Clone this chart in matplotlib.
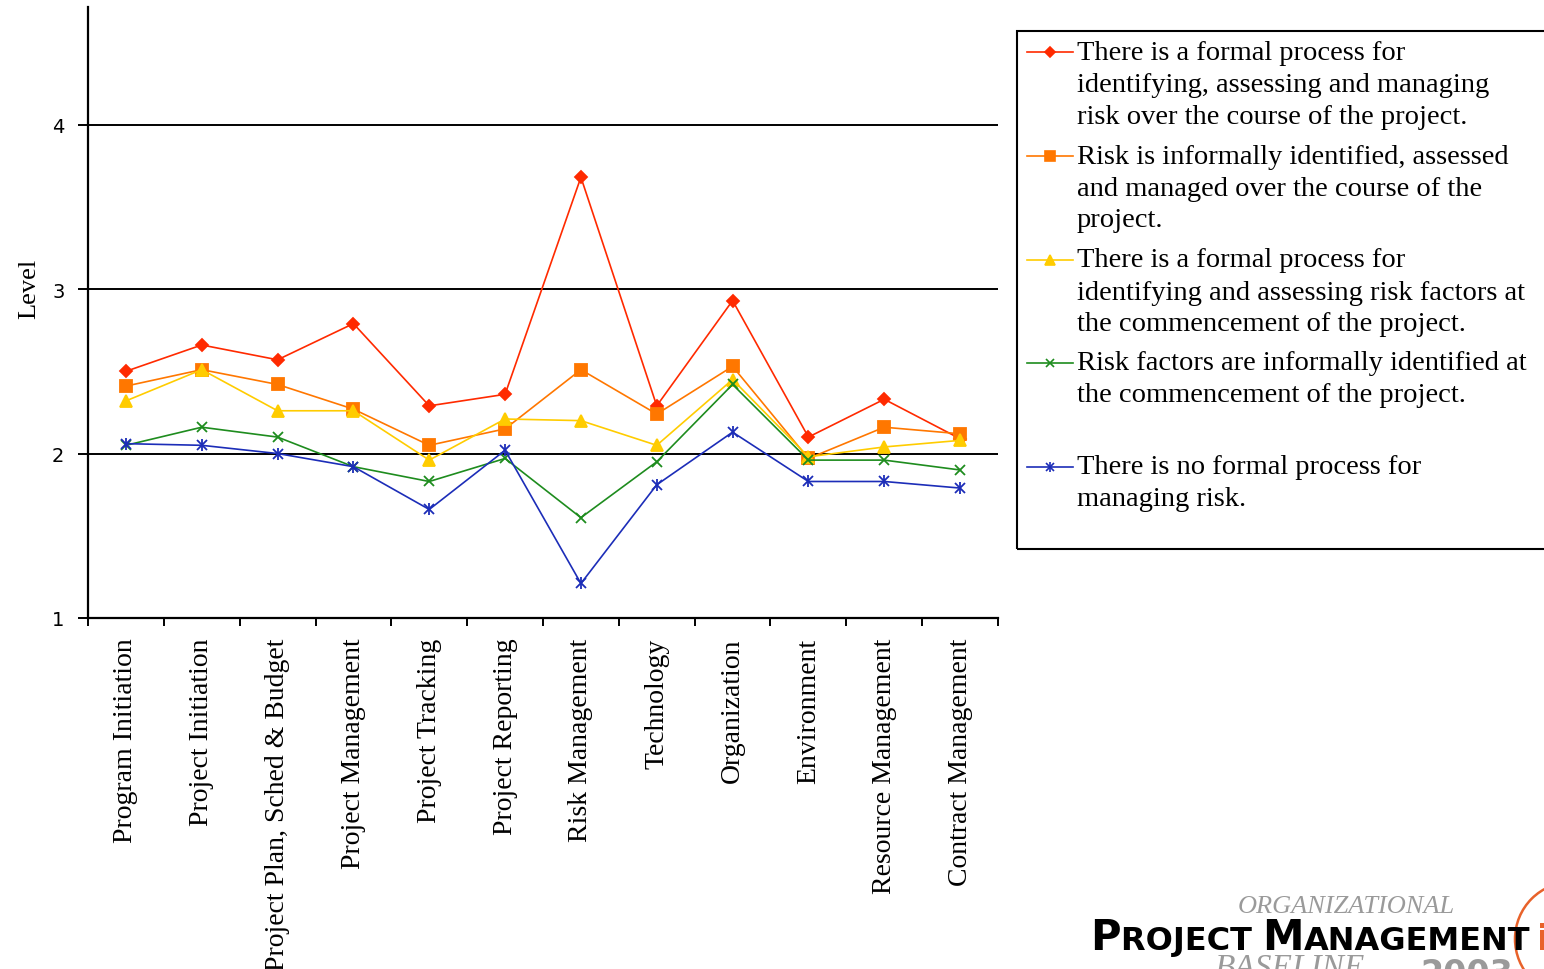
import matplotlib
matplotlib.use("Agg")
import matplotlib.pyplot as plt
from matplotlib.lines import Line2D
from matplotlib.patches import Rectangle, Ellipse

W, H = 1544, 970

categories = [
    "Program Initiation", "Project Initiation", "Project Plan, Sched & Budget",
    "Project Management", "Project Tracking", "Project Reporting",
    "Risk Management", "Technology", "Organization", "Environment",
    "Resource Management", "Contract Management",
]

formal_managing = [2.50, 2.66, 2.57, 2.79, 2.29, 2.36, 3.68, 2.29, 2.93, 2.10, 2.33, 2.09]
informal_managing = [2.41, 2.51, 2.42, 2.27, 2.05, 2.15, 2.51, 2.24, 2.53, 1.97, 2.16, 2.12]
formal_assessing = [2.32, 2.51, 2.26, 2.26, 1.96, 2.21, 2.20, 2.05, 2.45, 1.98, 2.04, 2.08]
informal_identified = [2.05, 2.16, 2.10, 1.92, 1.83, 1.97, 1.61, 1.95, 2.42, 1.96, 1.96, 1.90]
no_process = [2.06, 2.05, 2.00, 1.92, 1.66, 2.02, 1.21, 1.81, 2.13, 1.83, 1.83, 1.79]

legend_lines = [
    ["There is a formal process for",
     "identifying, assessing and managing",
     "risk over the course of the project."],
    ["Risk is informally identified, assessed",
     "and managed over the course of the",
     "project."],
    ["There is a formal process for",
     "identifying and assessing risk factors at",
     "the commencement of the project."],
    ["Risk factors are informally identified at",
     "the commencement of the project."],
    ["There is no formal process for",
     "managing risk."],
]

series = [formal_managing, informal_managing, formal_assessing,
          informal_identified, no_process]
colors = ["#FF2A00", "#FF7700", "#FFCC00", "#1E8C1E", "#1C2DB8"]
markers = ["D", "s", "^", "x", "x"]
msizes = [6.5, 9, 8, 7, 7]

SERIF = ["Liberation Serif", "DejaVu Serif"]


def fx(px):
    return px / W


def fy(py):
    return 1 - py / H


fig = plt.figure(figsize=(W / 100, H / 100), dpi=100)
ax = fig.add_axes([fx(88), fy(619), fx(998) - fx(88), fy(8) - fy(619)])

x = list(range(len(categories)))
for vals, c, m, ms in zip(series, colors, markers, msizes):
    ax.plot(x, vals, color=c, marker=m, markersize=ms, lw=1.2,
            markeredgewidth=1.3, zorder=3)
# the "star" marker of the last series gets a vertical bar too
ax.plot(x, no_process, ls="none", marker="|", markersize=8,
        color=colors[4], markeredgewidth=1.3, zorder=3)

ax.set_xlim(-0.5, len(categories) - 0.5)
ax.set_ylim(1, 4.715)
ax.set_yticks([1, 2, 3, 4])
ax.set_yticklabels(["1", "2", "3", "4"], fontsize=14, family="DejaVu Sans")
for yv in [2, 3, 4]:
    ax.axhline(yv, color="black", lw=1.4, zorder=1)

ax.set_xticks([i - 0.5 for i in range(len(categories) + 1)], minor=False)
ax.set_xticklabels([])
ax.set_xticks(x, minor=True)
ax.set_xticklabels(categories, minor=True, rotation=90, fontsize=20,
                   family=SERIF, va="top")
ax.tick_params(axis="x", which="minor", length=0, pad=14)
ax.tick_params(axis="x", which="major", length=6, width=1.4, direction="out")
ax.tick_params(axis="y", length=7, width=1.4, direction="out", pad=10)

for s in ["top", "right"]:
    ax.spines[s].set_visible(False)
for s in ["left", "bottom"]:
    ax.spines[s].set_linewidth(1.6)

ax.set_ylabel("Level", fontsize=19, family=SERIF)
ax.yaxis.set_label_coords((40 - 88) / 910, (619 - 289) / 611)

# legend box drawn by hand so markers sit on the first line of each entry
fig.patches.append(Rectangle((fx(1017), fy(550)), fx(1600) - fx(1017),
                             fy(32) - fy(550), transform=fig.transFigure,
                             fill=False, edgecolor="black", lw=1.5))
entry_tops = [53, 157, 261, 364, 468]
line_step = 32
for top, lines, c, m, ms in zip(entry_tops, legend_lines, colors, markers, msizes):
    fig.add_artist(Line2D([fx(1027), fx(1073)], [fy(top), fy(top)], color=c,
                          lw=1.2, transform=fig.transFigure))
    fig.add_artist(Line2D([fx(1050)], [fy(top)], color=c, marker=m,
                          markersize=ms * 0.85, markeredgewidth=1.2,
                          transform=fig.transFigure))
    for k, txt in enumerate(lines):
        fig.text(fx(1077), fy(top + k * line_step), txt, fontsize=20.5,
                 family=SERIF, va="center", ha="left")
fig.add_artist(Line2D([fx(1050)], [fy(468)], color=colors[4], marker="|",
                      markersize=7, markeredgewidth=1.2,
                      transform=fig.transFigure))

# logo, bottom right
fig.text(fx(1238), fy(918), "ORGANIZATIONAL", fontsize=19, style="italic",
         color="#9A9A9A", family=SERIF, va="bottom", ha="left")
fig.text(fx(1215), fy(954), "BASELINE", fontsize=24, style="italic",
         color="#9A9A9A", family=SERIF, va="top", ha="left")
fig.text(fx(1420), fy(958), "2003", fontsize=24, fontweight="bold",
         color="#9A9A9A", family="DejaVu Sans", va="top", ha="left")

renderer = fig.canvas.get_renderer()
xpos = fx(1090)
for piece, size in [("P", 30), ("ROJECT ", 23), ("M", 30), ("ANAGEMENT", 23)]:
    t = fig.text(xpos, fy(950), piece, fontsize=size, fontweight="heavy",
                 color="black", family="DejaVu Sans", va="baseline", ha="left")
    bb = t.get_window_extent(renderer)
    xpos += bb.width / W
fig.text(fx(1537), fy(950), "i", fontsize=26, fontweight="heavy",
         color="#E8622A", family="DejaVu Sans", va="baseline", ha="left")
fig.patches.append(Ellipse((fx(1572), fy(940)), 2 * 57 / W, 2 * 57 / H,
                           transform=fig.transFigure, fill=False,
                           edgecolor="#E8622A", lw=1.8))

fig.savefig("out.png", dpi=100)
